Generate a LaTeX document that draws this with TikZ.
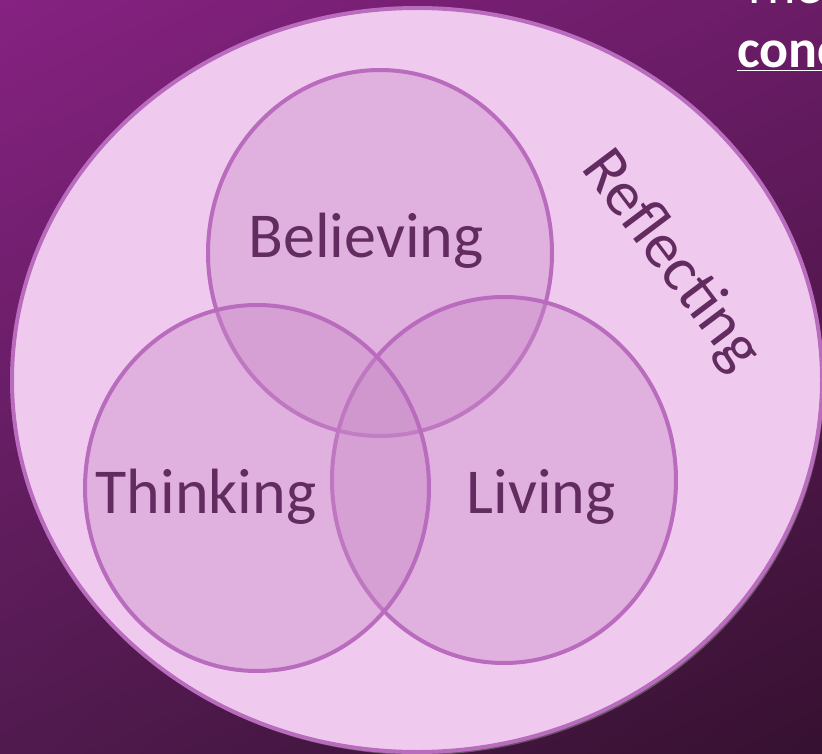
\documentclass[tikz,border=0pt]{standalone}
\usepackage{fontspec}
\setmainfont{Carlito}
\usetikzlibrary{shapes,shadows,shadings}
\definecolor{bgtl}{RGB}{134,34,130}
\definecolor{bgtr}{RGB}{106,28,102}
\definecolor{bgbl}{RGB}{80,26,78}
\definecolor{bgbr}{RGB}{54,17,48}
\definecolor{pale}{RGB}{240,202,238}
\definecolor{rim}{RGB}{185,108,190}
\definecolor{lobe}{RGB}{200,137,198}
\definecolor{ink}{RGB}{99,44,96}
\begin{document}
\begin{tikzpicture}[x=1pt,y=-1pt]
      \tikzstyle{venn}=[ellipse,draw=rim,line width=4pt,fill=lobe,fill opacity=0.4,minimum width=344pt,minimum height=366pt,inner sep=0pt]
      \tikzstyle{word}=[text=ink,inner sep=0pt,anchor=base,font=\fontsize{64}{72}\selectfont]
      \tikzstyle{heading}=[text=white,inner sep=0pt,anchor=base west,font=\fontsize{54}{64}\selectfont]
      \useasboundingbox (0,0) rectangle (822,754);
      \shade[upper left=bgtl,upper right=bgtr,lower left=bgbl,lower right=bgbr] (0,0) rectangle (822,754);
      \node[ellipse,draw=rim,line width=4pt,fill=pale,minimum width=810pt,minimum height=744pt,
        drop shadow={shadow xshift=2pt,shadow yshift=-3pt,opacity=0.6}] (reflecting) at (417,380) {};
      \node[venn] (believing) at (380,253) {};
      \node[venn] (living) at (504,480) {};
      \node[venn] (thinking) at (257,488) {};
      \node[word] (believinglabel) at (366,258) {Believing};
      \node[word] (thinkinglabel) at (206,513) {Thinking};
      \node[word] (livinglabel) at (541,513) {Living};
      \node[word,anchor=base west,rotate=-53] (reflectinglabel) at (580,168) {Reflecting};
      \node[heading] (the) at (741,4) {The};
      \node[heading,font=\fontsize{54}{64}\selectfont\bfseries] (conc) at (737,68) {\underline{conc}};
\end{tikzpicture}
\end{document}
